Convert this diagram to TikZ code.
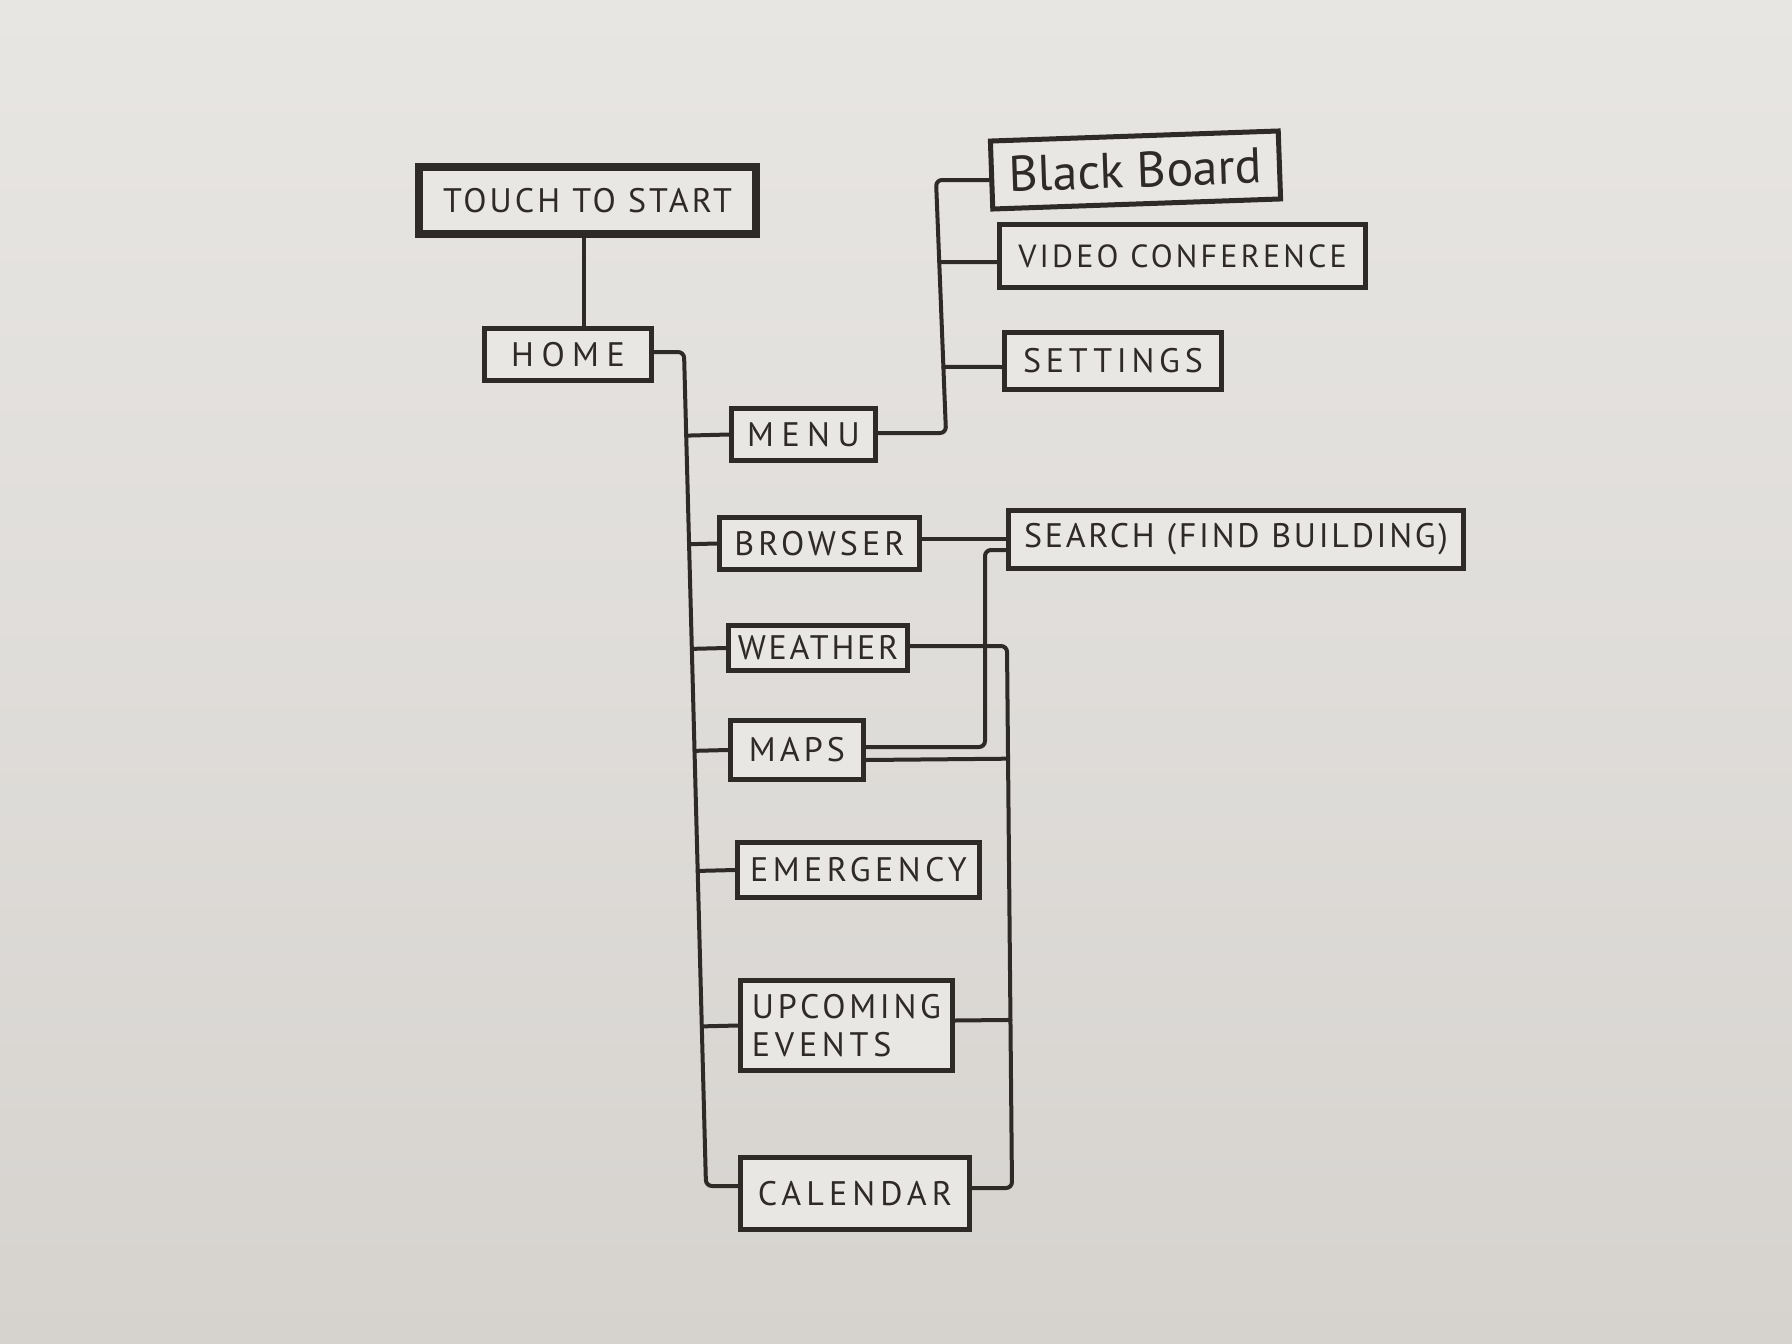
\documentclass[tikz,border=0pt]{standalone}
\usepackage{fontspec}
\setmainfont{PT Sans}
\newfontfamily\hand{PT Sans}
\usetikzlibrary{calc}
\definecolor{paper}{HTML}{E8E6E3}
\definecolor{paperlow}{HTML}{D6D3CF}
\definecolor{ink}{HTML}{2E2A27}
\definecolor{boxfill}{HTML}{E9E7E4}
\newcommand\ls[1]{\addfontfeatures{LetterSpace=#1}}
\begin{document}
\begin{tikzpicture}[x=1pt,y=-1pt,
  lbl/.style={draw=ink, fill=boxfill, line width=5pt, inner sep=0pt, text=ink,
              font=\hand\fontsize{34}{38}\selectfont, align=center},
  wire/.style={draw=ink, line width=4pt, rounded corners=6pt, line cap=round, line join=round}]
\shade[top color=paper, bottom color=paperlow] (0,0) rectangle (1792,1344);
\useasboundingbox (0,0) rectangle (1792,1344);

% nodes
\node[lbl, line width=8pt, minimum width=337pt, minimum height=67pt] (touch) at (587.5,200.5) {\ls{9}TOUCH TO START};
\node[lbl, minimum width=167pt, minimum height=52pt] (home) at (568,354.5) {\ls{22}HOME};
\node[lbl, minimum width=144pt, minimum height=52pt] (menu) at (803.5,434.5) {\ls{22}MENU};
\node[lbl, rotate=2, minimum width=288pt, minimum height=68pt, font=\hand\fontsize{50}{54}\selectfont] (bb) at (1135.5,170) {Black Board};
\node[lbl, minimum width=366pt, minimum height=63pt, font=\hand\fontsize{32}{36}\selectfont] (video) at (1182.5,256) {\ls{10}VIDEO CONFERENCE};
\node[lbl, minimum width=217pt, minimum height=57pt] (settings) at (1113,361) {\ls{14}SETTINGS};
\node[lbl, minimum width=200pt, minimum height=52pt] (browser) at (819.5,543.5) {\ls{12}BROWSER};
\node[lbl, minimum width=455pt, minimum height=58pt] (search) at (1236,539.5) {\ls{8}SEARCH (FIND BUILDING)};
\node[lbl, minimum width=179pt, minimum height=45pt] (weather) at (818,648) {\ls{8}WEATHER};
\node[lbl, minimum width=133pt, minimum height=59pt] (maps) at (797,750) {\ls{12}MAPS};
\node[lbl, minimum width=242pt, minimum height=55pt] (emergency) at (858.5,870) {\ls{13}EMERGENCY};
\node[lbl, minimum width=212pt, minimum height=90pt, align=left] (upcoming) at (846.5,1025.5) {\ls{11}UPCOMING\\\ls{14}EVENTS};
\node[lbl, minimum width=229pt, minimum height=72pt] (calendar) at (855,1193.5) {\ls{15}CALENDAR};

% touch -> home
\coordinate (tx) at (584,0);
\draw[wire] (touch.south -| tx) -- (home.north -| tx);

% main trunk from home
\coordinate (t0) at (684,352);
\coordinate (t1) at (706,1186);
\draw[wire] (home.east |- t0) -- (t0) -- (t1) -- (t1 -| calendar.west);
\foreach \n in {menu,browser,weather,maps,emergency,upcoming}
  \draw[wire] ($(t0)!(\n.west)!(t1)$) -- (\n.west);

% menu sub-trunk
\coordinate (m0) at (946,433);
\coordinate (m1) at (936,180);
\draw[wire] (menu.east |- m0) -- (m0) -- (m1) -- (m1 -| bb.west);
\foreach \n/\yy in {video/262,settings/367}
  \draw[wire] ($(m0)!(940,\yy)!(m1)$) -- (\n.west |- 0,\yy);

% browser -> search
\draw[wire] ($(browser.east)+(0,-5)$) -- ($(search.west)+(0,-1)$);

% maps -> search
\coordinate (s0) at (985,747);
\coordinate (s1) at (985,550);
\draw[wire] (maps.east |- s0) -- (s0) -- (s1) -- (s1 -| search.west);

% right trunk: weather -> calendar
\coordinate (r0) at (1007,646);
\coordinate (r1) at (1012,1188);
\draw[wire] (weather.east |- r0) -- (r0) -- (r1) -- (r1 -| calendar.east);
\draw[wire] ($(maps.east)+(0,10)$) -- ($(r0)!($(maps.east)+(0,10)$)!(r1)$);
\draw[wire] ($(upcoming.east)+(0,-5)$) -- ($(r0)!($(upcoming.east)+(0,-5)$)!(r1)$);
\end{tikzpicture}
\end{document}
